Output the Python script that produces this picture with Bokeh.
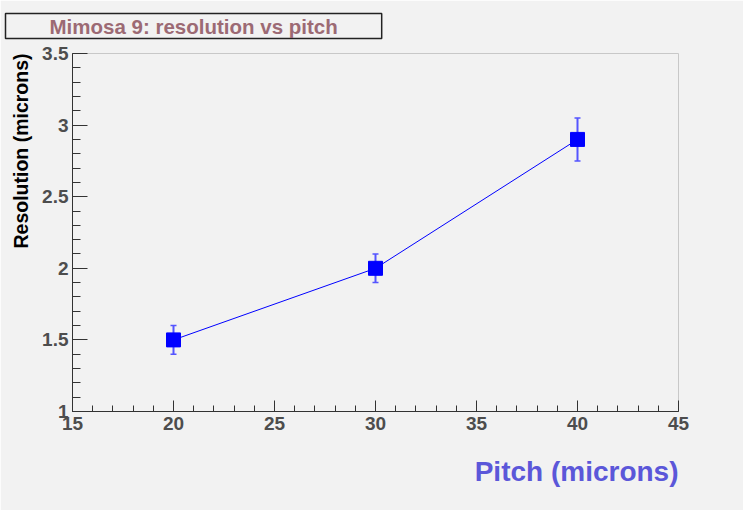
from bokeh.plotting import figure
from bokeh.models import Range1d, SingleIntervalTicker, ColumnDataSource, Title
from bokeh.embed import file_html
from bokeh.resources import INLINE

# ---- data ----
pitch = [20, 30, 40]
resolution = [1.5, 2.0, 2.9]
res_error = [0.1, 0.1, 0.15]
y_tick_labels = {1: "1", 1.5: "1.5", 2: "2", 2.5: "2.5", 3: "3", 3.5: "3.5"}
title_text = "Mimosa 9: resolution vs pitch"
x_title = "Pitch (microns)"
y_title = "Resolution (microns)"

BG = "#f2f2f2"
FONT = "Liberation Sans"

p = figure(width=743, height=510, output_backend="svg", toolbar_location=None,
           x_range=Range1d(15, 45), y_range=Range1d(1, 3.5),
           background_fill_color=BG, border_fill_color=BG,
           min_border_left=72, min_border_right=65, min_border_top=53, min_border_bottom=99)
p.outline_line_color = "#c8c8c8"
p.outline_line_width = 1
p.grid.visible = False

# axes
p.xaxis.ticker = SingleIntervalTicker(interval=5, num_minor_ticks=5)
p.yaxis.ticker = SingleIntervalTicker(interval=0.5, num_minor_ticks=5)
p.yaxis.major_label_overrides = y_tick_labels
for ax in (p.xaxis[0], p.yaxis[0]):
    ax.axis_line_color = "#333333"
    ax.major_tick_line_color = "#333333"
    ax.minor_tick_line_color = "#333333"
    ax.major_tick_out = 0
    ax.minor_tick_out = 0
    ax.major_label_text_font = FONT
    ax.major_label_text_font_style = "bold"
    ax.major_label_text_font_size = "19px"
    ax.major_label_text_color = "#4d4d4d"
p.xaxis.major_tick_in = 11
p.xaxis.minor_tick_in = 6
p.yaxis.major_tick_in = 15
p.yaxis.minor_tick_in = 8
p.xaxis.major_label_standoff = 5
p.yaxis.major_label_standoff = 4

src = ColumnDataSource(dict(x=pitch, y=resolution,
                            lo=[r - e for r, e in zip(resolution, res_error)],
                            hi=[r + e for r, e in zip(resolution, res_error)]))

p.line("x", "y", source=src, line_color="#0000ff", line_width=1)
# error bars with caps
p.segment(x0="x", y0="lo", x1="x", y1="hi", source=src, line_color="#5555ff", line_width=2)
p.scatter("x", "hi", source=src, marker="dash", size=6, line_color="#5555ff", line_width=1.5)
p.scatter("x", "lo", source=src, marker="dash", size=6, line_color="#5555ff", line_width=1.5)
p.scatter("x", "y", source=src, marker="square", size=14, fill_color="#0000ff",
          line_color="#0000ff")

# titles placed in the side panels
p.add_layout(Title(text=y_title, align="right", standoff=11, vertical_align="top",
                   text_font=FONT, text_font_style="bold", text_font_size="19.5px",
                   text_color="black"), "left")
p.add_layout(Title(text=x_title, align="right", standoff=43,
                   text_font=FONT, text_font_style="bold", text_font_size="28px",
                   text_color="#5b57d9"), "below")
p.add_layout(Title(text=title_text, align="left", offset=-67, standoff=26,
                   vertical_align="top",
                   text_font=FONT, text_font_style="bold", text_font_size="20.5px",
                   text_color="#9c6a74", background_fill_color=BG,
                   border_line_color="#222222", border_line_width=1.5,
                   padding=(44, 1)), "above")

open("out.html", "w").write(file_html(p, INLINE))
